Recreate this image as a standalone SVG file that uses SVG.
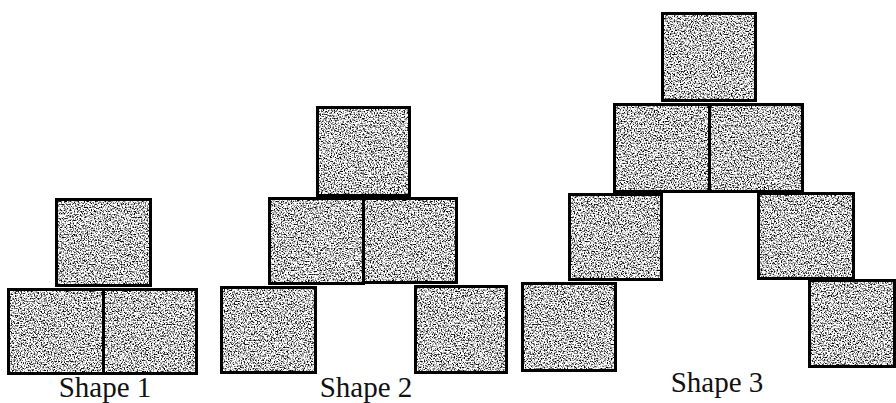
<svg xmlns="http://www.w3.org/2000/svg" width="896" height="403" viewBox="0 0 896 403">
  <style>
    .box { fill: url(#grain); stroke: #000; stroke-width: 3; }
    .label { font-family: "Liberation Serif", "Times New Roman", serif; font-size: 29px; fill: #111; text-anchor: middle; }
  </style>
  <defs>
    <filter id="noise" x="0" y="0" width="100%" height="100%" color-interpolation-filters="sRGB">
      <feTurbulence type="fractalNoise" baseFrequency="0.7" numOctaves="2" seed="7"/>
      <feColorMatrix type="matrix" values="3.6 0 0 0 -1.0  3.6 0 0 0 -1.0  3.6 0 0 0 -1.0  0 0 0 0 1"/>
    </filter>
    <pattern id="grain" patternUnits="userSpaceOnUse" x="0" y="0" width="896" height="403">
      <rect x="0" y="0" width="896" height="403" filter="url(#noise)"/>
    </pattern>
  </defs>
  <rect x="0" y="0" width="896" height="403" fill="#fff"/>

  <g id="shape1">
    <g id="s1-top"><rect class="box" x="56.5" y="199.5" width="94" height="86"/></g>
    <g id="s1-bottom-left"><rect class="box" x="8.5" y="289.5" width="95" height="84"/></g>
    <g id="s1-bottom-right"><rect class="box" x="103.5" y="289.5" width="93" height="84"/></g>
    <text class="label" x="105" y="397">Shape 1</text>
  </g>

  <g id="shape2">
    <g id="s2-top"><rect class="box" x="317.5" y="107.5" width="92" height="88"/></g>
    <g id="s2-mid-left"><rect class="box" x="269.5" y="198.5" width="94" height="85"/></g>
    <g id="s2-mid-right"><rect class="box" x="363.5" y="198.5" width="93" height="84"/></g>
    <g id="s2-bottom-left"><rect class="box" x="221.5" y="287.5" width="94" height="85"/></g>
    <g id="s2-bottom-right"><rect class="box" x="415.5" y="286.5" width="91" height="86"/></g>
    <text class="label" x="366" y="397">Shape 2</text>
  </g>

  <g id="shape3">
    <g id="s3-top"><rect class="box" x="662.5" y="13.5" width="93" height="87"/></g>
    <g id="s3-r2-left"><rect class="box" x="614.5" y="104.5" width="95" height="87"/></g>
    <g id="s3-r2-right"><rect class="box" x="709.5" y="104.5" width="93" height="87"/></g>
    <g id="s3-r3-left"><rect class="box" x="569.5" y="194.5" width="92" height="85"/></g>
    <g id="s3-r3-right"><rect class="box" x="758.5" y="193.5" width="95" height="85"/></g>
    <g id="s3-r4-left"><rect class="box" x="522.5" y="283.5" width="93" height="87"/></g>
    <g id="s3-r4-right"><rect class="box" x="809.5" y="280.5" width="85" height="86"/></g>
    <text class="label" x="717" y="392">Shape 3</text>
  </g>
</svg>
